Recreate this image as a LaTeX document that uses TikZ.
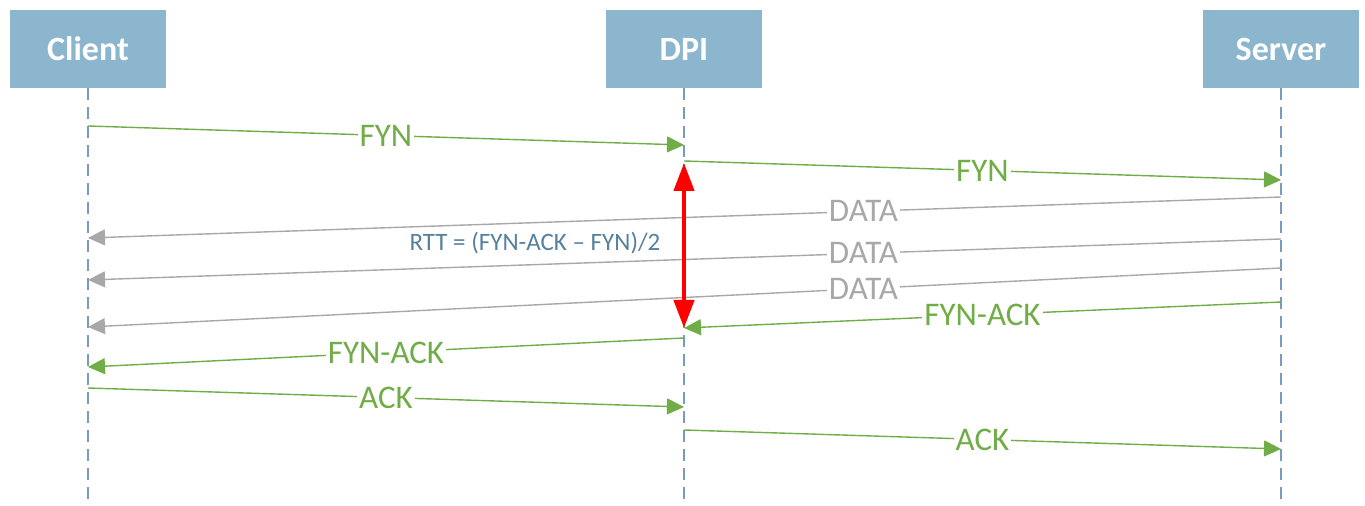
\documentclass[tikz,border=0pt]{standalone}
\usepackage{fontspec}
\setmainfont{Carlito}
\usetikzlibrary{arrows.meta}

\definecolor{boxblue}{HTML}{8CB6CE}
\definecolor{lifeblue}{HTML}{789CC0}
\definecolor{msggreen}{HTML}{70AD47}
\definecolor{msggray}{HTML}{A8A8A8}
\definecolor{rttblue}{HTML}{55809E}

\tikzset{
  party/.style={fill=boxblue, text=white, font=\fontsize{17}{20}\selectfont\bfseries,
    minimum width=78pt, minimum height=39pt, inner sep=0pt},
  lifeline/.style={lifeblue, line width=0.6pt, dash pattern=on 6pt off 3.5pt},
  msg/.style={msggreen, line width=0.7pt, -{Triangle[length=8.5pt, width=8pt]}},
  datamsg/.style={msggray, line width=0.7pt, -{Triangle[length=8.5pt, width=8pt]}},
  lbl/.style={fill=white, inner sep=1pt, font=\fontsize{16.5}{18}\selectfont},
}

\begin{document}
\begin{tikzpicture}[x=0.5pt, y=-0.5pt]
\useasboundingbox (0,0) rectangle (1365,506);

% parties
\node[party] (client) at (88,49) {Client};
\node[party] (dpi) at (684,49) {DPI};
\node[party] (server) at (1281,49) {Server};

% lifelines
\draw[lifeline] (client.south) -- (client.south |- 0,506);
\draw[lifeline] (dpi.south) -- (dpi.south |- 0,506);
\draw[lifeline] (server.south) -- (server.south |- 0,506);

% handshake and data
\draw[msg] (client.south |- 0,126) -- node[lbl, text=msggreen] (fyn1) {FYN} (dpi.south |- 0,145);
\draw[msg] (dpi.south |- 0,161) -- node[lbl, text=msggreen] (fyn2) {FYN} (server.south |- 0,180);
\draw[datamsg] (server.south |- 0,197) -- node[lbl, text=msggray, pos=0.35] (data1) {DATA} (client.south |- 0,238);
\draw[datamsg] (server.south |- 0,239) -- node[lbl, text=msggray, pos=0.35] (data2) {DATA} (client.south |- 0,280);
\draw[datamsg] (server.south |- 0,268) -- node[lbl, text=msggray, pos=0.35] (data3) {DATA} (client.south |- 0,327);
\draw[msg] (server.south |- 0,302) -- node[lbl, text=msggreen] (fynack1) {FYN-ACK} (dpi.south |- 0,328);
\draw[msg] (dpi.south |- 0,338) -- node[lbl, text=msggreen] (fynack2) {FYN-ACK} (client.south |- 0,367);
\draw[msg] (client.south |- 0,388) -- node[lbl, text=msggreen] (ack1) {ACK} (dpi.south |- 0,407);
\draw[msg] (dpi.south |- 0,430) -- node[lbl, text=msggreen] (ack2) {ACK} (server.south |- 0,449);

% round trip time
\draw[red, line width=2.2pt, {Triangle[length=14pt, width=10pt]}-{Triangle[length=14pt, width=10pt]}]
  (dpi.south |- 0,163) -- (dpi.south |- 0,328);
\node[text=rttblue, font=\fontsize{12.5}{14}\selectfont] (rtt) at (535,243) {RTT = (FYN-ACK – FYN)/2};
\end{tikzpicture}
\end{document}
